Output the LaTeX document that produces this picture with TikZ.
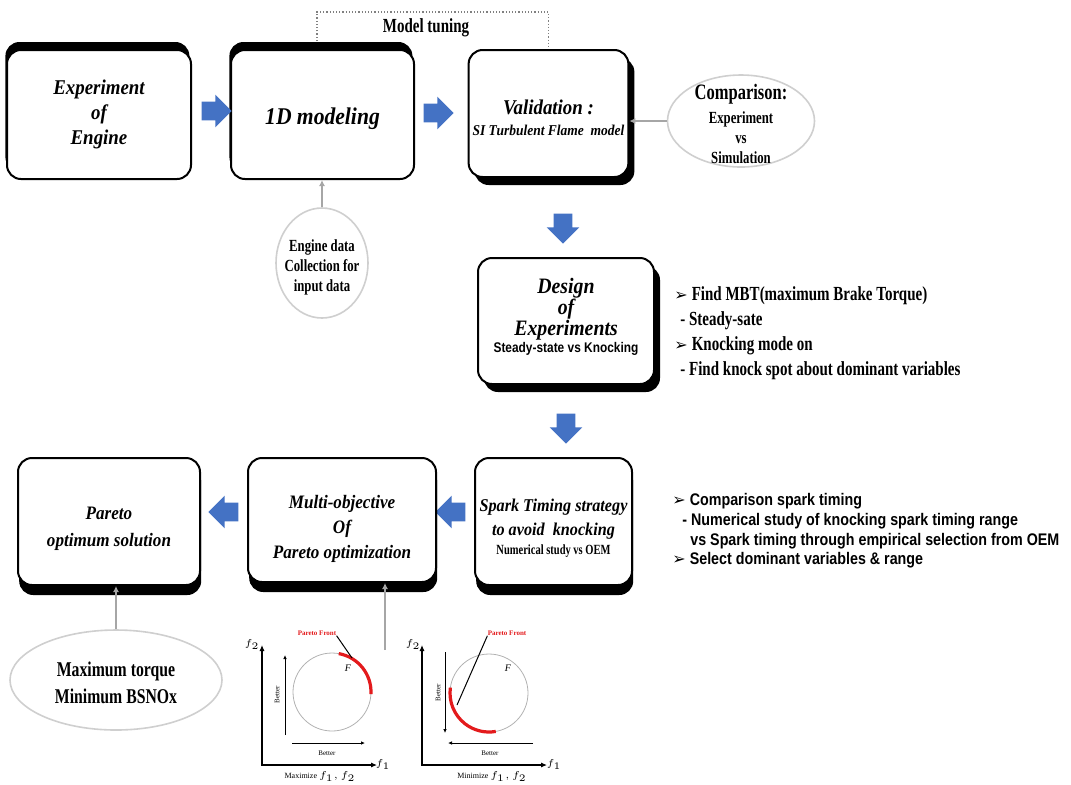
\documentclass[tikz,border=0pt]{standalone}
\usepackage{fontspec}
\setmainfont{Liberation Serif}
\newfontfamily\boxfont{Liberation Serif}[FakeStretch=0.9]
\newfontfamily\condfont{Liberation Serif}[FakeStretch=0.75]
\newfontfamily\listsans{Liberation Sans}[FakeStretch=0.85]
\newfontfamily\dingfont{DejaVu Sans}
\usetikzlibrary{shapes.geometric,shapes.arrows,shadows,arrows.meta}

\definecolor{arrowblue}{HTML}{4472C4}
\definecolor{linkgray}{HTML}{A6A6A6}
\definecolor{ovalgray}{HTML}{CFCFCF}
\definecolor{frontred}{HTML}{E31A1C}

\newcommand{\bul}{{\dingfont\fontsize{8}{8}\selectfont ➢}\hspace{2pt}}

\tikzset{
  stepbox/.style={draw=black, line width=1pt, rounded corners=7pt, fill=white, align=center, inner sep=2pt},
  shadeup/.style={drop shadow={shadow xshift=-0.8pt, shadow yshift=4pt, fill=black, opacity=1}},
  shadebr/.style={drop shadow={shadow xshift=3pt, shadow yshift=-4pt, fill=black, opacity=1}},
  shadedown/.style={drop shadow={shadow xshift=0.6pt, shadow yshift=-5pt, fill=black, opacity=1}},
  boxtitle/.style={font=\boxfont\bfseries\itshape\fontsize{10.5}{12.5}\selectfont},
  oval/.style={ellipse, draw=ovalgray, line width=0.8pt, fill=white, inner sep=0pt},
  ovaltext/.style={align=center, inner sep=0pt, font=\condfont\bfseries\fontsize{8.5}{10}\selectfont},
  blockarrow/.style={single arrow, fill=arrowblue, draw=none, minimum height=15pt, minimum width=16pt, inner sep=4.5pt, single arrow head extend=3.5pt},
  link/.style={draw=linkgray, line width=1.2pt, -{Latex[length=3pt,width=3pt]}},
  listtext/.style={anchor=west, align=left, inner sep=0pt},
  axisline/.style={line width=1pt, {Latex[length=3pt,width=2.6pt]}-{Latex[length=3pt,width=2.6pt]}},
  betterarrow/.style={line width=0.5pt, -{Latex[length=2pt,width=1.8pt]}},
  graphtxt/.style={inner sep=0pt, font=\fontsize{3.5}{4}\selectfont},
  fronttxt/.style={inner sep=0pt, text=frontred, font=\bfseries\fontsize{3.5}{4}\selectfont},
}

\begin{document}
\begin{tikzpicture}[x=0.5pt, y=-0.5pt]
  \useasboundingbox (0,0) rectangle (1071,784);

  % first row
  \node[stepbox, shadeup, minimum width=92pt, minimum height=64.5pt, boxtitle]
    (exp) at (99,114.5) {Experiment\\of\\Engine};
  \node[stepbox, shadeup, minimum width=91.5pt, minimum height=64.5pt, text height=13pt,
    font=\boxfont\bfseries\itshape\fontsize{12}{14}\selectfont]
    (mod) at (322.5,114.5) {1D modeling};
  \node[stepbox, shadebr, minimum width=78.5pt, minimum height=63.5pt, text height=22.5pt]
    (val) at (548.5,113.5)
    {{\boxfont\bfseries\itshape\fontsize{10.5}{11.5}\selectfont Validation :}\\[-1.5pt]
     {\boxfont\bfseries\itshape\fontsize{7.5}{9}\selectfont SI Turbulent Flame~ model}};
  \node[oval, minimum width=73.5pt, minimum height=46pt] (cmp) at (741,121) {};
  \node[ovaltext] (cmptxt) at (741,124)
    {{\fontsize{11}{12.5}\selectfont Comparison:}\\[2pt]Experiment\\vs\\Simulation};

  \node[blockarrow] (a1) at (212,111) {};
  \node[blockarrow] (a2) at (434,113) {};

  % model tuning loop
  \node[inner sep=0pt, font=\condfont\bfseries\fontsize{10}{12}\selectfont]
    (tune) at (426,28) {Model tuning};
  \coordinate (tunetop) at (0,12);
  \draw[densely dotted, gray, line width=0.6pt]
    ([xshift=-2.75pt,yshift=4pt]mod.north) |- (tunetop -| val.north) -- (val.north);

  % inputs
  \node[oval, minimum width=46pt, minimum height=55pt] (data) at (322,263) {};
  \node[ovaltext] (datatxt) at (322,267) {Engine data\\Collection for\\input data};
  \draw[link] (data.north) -- (data.north |- mod.south);
  \draw[link] (cmp.west) -- (cmp.west -| val.east);

  % second row
  \node[blockarrow, rotate=-90] (d1) at (563,224) {};
  \node[stepbox, shadebr, minimum width=88pt, minimum height=63pt, text depth=5.5pt,
    font=\boxfont\bfseries\itshape\fontsize{11}{10.5}\selectfont]
    (doe) at (566,321)
    {Design\\of\\Experiments\\[-2pt]
     {\listsans\upshape\bfseries\fontsize{7}{9}\selectfont Steady-state vs Knocking}};
  \node[listtext, font=\condfont\bfseries\fontsize{10}{12.5}\selectfont] (doelist) at (674,333)
    {\bul Find MBT(maximum Brake Torque)\\
     \hspace{3pt}- Steady-sate\\
     \bul Knocking mode on\\
     \hspace{3pt}- Find knock spot about dominant variables};
  \node[blockarrow, rotate=-90] (d2) at (566,424) {};

  % third row
  \node[stepbox, shadedown, minimum width=78.5pt, minimum height=63.5pt, text height=34.5pt,
    font=\boxfont\bfseries\itshape\fontsize{9}{12}\selectfont]
    (spark) at (553.5,521.5)
    {Spark Timing strategy\\to avoid~ knocking\\[-2.5pt]
     {\condfont\upshape\fontsize{7}{8}\selectfont Numerical study vs OEM}};
  \node[listtext, font=\listsans\bfseries\fontsize{8.4}{9.8}\selectfont] (sparklist) at (672,531)
    {\bul Comparison spark timing\\
     \hspace{5pt}- Numerical study of knocking spark timing range\\
     \hspace{9pt}vs Spark timing through empirical selection from OEM\\
     \bul Select dominant variables \& range};
  \node[blockarrow, rotate=180] (l1) at (455,512) {};
  \node[stepbox, shadedown, minimum width=94pt, minimum height=62pt, text height=41pt,
    font=\boxfont\bfseries\itshape\fontsize{9.5}{12.5}\selectfont]
    (multi) at (342,520) {Multi-objective\\Of\\Pareto optimization};
  \node[blockarrow, rotate=180] (l2) at (228,512) {};
  \node[stepbox, shadedown, minimum width=91pt, minimum height=63.5pt, text height=27pt,
    font=\boxfont\bfseries\itshape\fontsize{9.5}{13.5}\selectfont]
    (par) at (109,521.5) {Pareto\\optimum solution};

  % objectives
  \node[oval, minimum width=106pt, minimum height=50pt] (maxt) at (116,680) {};
  \node[ovaltext, font=\condfont\bfseries\fontsize{10.5}{13.5}\selectfont] (maxttxt)
    at (116,683) {Maximum torque\\Minimum BSNOx};
  \draw[link] (maxt.north) -- (maxt.north |- par.south);

  % pareto sketch, maximize
  \draw[axisline] (262,645) -- (262,765) -- (377,765);
  \draw[gray!60, line width=0.4pt] (332,692) circle[radius=19.5pt];
  \draw[frontred, line width=1.6pt] (332,692) ++(80:19.5pt)
    arc[start angle=80, end angle=-3, radius=19.5pt];
  \draw[betterarrow] (285,735) -- (285,655);
  \draw[betterarrow] (292,743) -- (365,743);
  \node[graphtxt, rotate=90] (g1bv) at (277,695) {Better};
  \node[graphtxt] (g1bh) at (327,753) {Better};
  \node[graphtxt, font=\itshape\fontsize{5}{6}\selectfont] (g1f) at (348,668) {F};
  \node[graphtxt, font=\fontsize{5}{6}\selectfont] (g1y) at (252,645) {$f_2$};
  \node[graphtxt, font=\fontsize{5}{6}\selectfont] (g1x) at (383,765) {$f_1$};
  \node[graphtxt, font=\fontsize{4}{5}\selectfont] (g1cap) at (320,777) {Maximize $f_1, f_2$};
  \node[fronttxt] (g1pf) at (317,633) {Pareto Front};
  \coordinate (g1tip) at (352,658);
  \draw[line width=0.5pt] (g1pf.south east) -- (g1tip);

  % pareto sketch, minimize
  \draw[axisline] (422,645) -- (422,765) -- (547,765);
  \draw[gray!60, line width=0.4pt] (489,693) circle[radius=19.5pt];
  \draw[frontred, line width=1.6pt] (489,693) ++(172:19.5pt)
    arc[start angle=172, end angle=280, radius=19.5pt];
  \draw[betterarrow] (445,652) -- (445,733);
  \draw[betterarrow] (533,743) -- (448,743);
  \node[graphtxt, rotate=90] (g2bv) at (438,693) {Better};
  \node[graphtxt] (g2bh) at (490,753) {Better};
  \node[graphtxt, font=\itshape\fontsize{5}{6}\selectfont] (g2f) at (508,668) {F};
  \node[graphtxt, font=\fontsize{5}{6}\selectfont] (g2y) at (413,645) {$f_2$};
  \node[graphtxt, font=\fontsize{5}{6}\selectfont] (g2x) at (554,765) {$f_1$};
  \node[graphtxt, font=\fontsize{4}{5}\selectfont] (g2cap) at (492,777) {Minimize $f_1, f_2$};
  \node[fronttxt] (g2pf) at (507,633) {Pareto Front};
  \coordinate (g2tip) at (457,705);
  \draw[line width=0.5pt] (g2pf.south west) -- (g2tip);

  \coordinate (gtop) at (385,650);
  \draw[link] (gtop) -- (gtop |- multi.south);
\end{tikzpicture}
\end{document}
